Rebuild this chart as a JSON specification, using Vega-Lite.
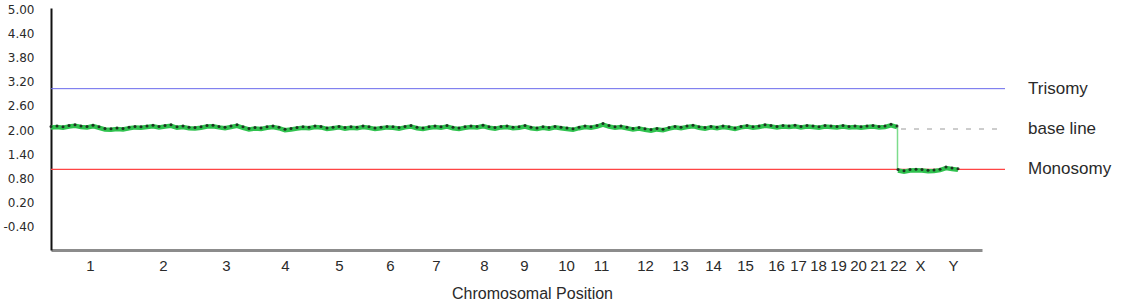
{
  "$schema": "https://vega.github.io/schema/vega-lite/v6.json",
  "width": 931,
  "height": 242,
  "autosize": {"type": "none"},
  "padding": {"left": 51, "top": 8, "right": 141, "bottom": 53},
  "background": "white",
  "config": {
    "view": {"stroke": null},
    "axis": {"grid": false, "ticks": false}
  },
  "datasets": {
    "ratios": [
      {"pos":0,"ratio":2.04,"seg":"A"},{"pos":6,"ratio":2.05,"seg":"A"},{"pos":12,"ratio":2.03,"seg":"A"},{"pos":18,"ratio":2.06,"seg":"A"},{"pos":24,"ratio":2.08,"seg":"A"},{"pos":30,"ratio":2.05,"seg":"A"},{"pos":36,"ratio":2.04,"seg":"A"},{"pos":42,"ratio":2.07,"seg":"A"},{"pos":48,"ratio":2.03,"seg":"A"},{"pos":54,"ratio":1.99,"seg":"A"},{"pos":60,"ratio":1.98,"seg":"A"},{"pos":66,"ratio":2.0,"seg":"A"},{"pos":72,"ratio":1.99,"seg":"A"},{"pos":78,"ratio":2.02,"seg":"A"},{"pos":84,"ratio":2.04,"seg":"A"},{"pos":90,"ratio":2.03,"seg":"A"},{"pos":96,"ratio":2.05,"seg":"A"},{"pos":102,"ratio":2.07,"seg":"A"},{"pos":108,"ratio":2.04,"seg":"A"},{"pos":114,"ratio":2.06,"seg":"A"},{"pos":120,"ratio":2.08,"seg":"A"},{"pos":126,"ratio":2.03,"seg":"A"},{"pos":132,"ratio":2.05,"seg":"A"},{"pos":138,"ratio":2.02,"seg":"A"},{"pos":144,"ratio":2.01,"seg":"A"},{"pos":150,"ratio":2.03,"seg":"A"},{"pos":156,"ratio":2.06,"seg":"A"},{"pos":162,"ratio":2.07,"seg":"A"},{"pos":168,"ratio":2.04,"seg":"A"},{"pos":174,"ratio":2.02,"seg":"A"},{"pos":180,"ratio":2.05,"seg":"A"},{"pos":186,"ratio":2.08,"seg":"A"},{"pos":192,"ratio":2.03,"seg":"A"},{"pos":198,"ratio":1.99,"seg":"A"},{"pos":204,"ratio":2.01,"seg":"A"},{"pos":210,"ratio":2.0,"seg":"A"},{"pos":216,"ratio":2.03,"seg":"A"},{"pos":222,"ratio":2.05,"seg":"A"},{"pos":228,"ratio":2.02,"seg":"A"},{"pos":234,"ratio":1.97,"seg":"A"},{"pos":240,"ratio":1.99,"seg":"A"},{"pos":246,"ratio":2.01,"seg":"A"},{"pos":252,"ratio":2.03,"seg":"A"},{"pos":258,"ratio":2.02,"seg":"A"},{"pos":264,"ratio":2.05,"seg":"A"},{"pos":270,"ratio":2.04,"seg":"A"},{"pos":276,"ratio":2.0,"seg":"A"},{"pos":282,"ratio":2.02,"seg":"A"},{"pos":288,"ratio":2.04,"seg":"A"},{"pos":294,"ratio":2.01,"seg":"A"},{"pos":300,"ratio":2.03,"seg":"A"},{"pos":306,"ratio":2.02,"seg":"A"},{"pos":312,"ratio":2.05,"seg":"A"},{"pos":318,"ratio":2.03,"seg":"A"},{"pos":324,"ratio":2.0,"seg":"A"},{"pos":330,"ratio":2.02,"seg":"A"},{"pos":336,"ratio":2.04,"seg":"A"},{"pos":342,"ratio":2.03,"seg":"A"},{"pos":348,"ratio":2.01,"seg":"A"},{"pos":354,"ratio":2.04,"seg":"A"},{"pos":360,"ratio":2.06,"seg":"A"},{"pos":366,"ratio":2.02,"seg":"A"},{"pos":372,"ratio":2.0,"seg":"A"},{"pos":378,"ratio":2.03,"seg":"A"},{"pos":384,"ratio":2.05,"seg":"A"},{"pos":390,"ratio":2.03,"seg":"A"},{"pos":396,"ratio":2.06,"seg":"A"},{"pos":402,"ratio":2.02,"seg":"A"},{"pos":408,"ratio":2.0,"seg":"A"},{"pos":414,"ratio":2.03,"seg":"A"},{"pos":420,"ratio":2.05,"seg":"A"},{"pos":426,"ratio":2.04,"seg":"A"},{"pos":432,"ratio":2.07,"seg":"A"},{"pos":438,"ratio":2.03,"seg":"A"},{"pos":444,"ratio":2.01,"seg":"A"},{"pos":450,"ratio":2.04,"seg":"A"},{"pos":456,"ratio":2.05,"seg":"A"},{"pos":462,"ratio":2.02,"seg":"A"},{"pos":468,"ratio":2.03,"seg":"A"},{"pos":474,"ratio":2.06,"seg":"A"},{"pos":480,"ratio":2.02,"seg":"A"},{"pos":486,"ratio":2.0,"seg":"A"},{"pos":492,"ratio":2.03,"seg":"A"},{"pos":498,"ratio":2.01,"seg":"A"},{"pos":504,"ratio":2.04,"seg":"A"},{"pos":510,"ratio":2.02,"seg":"A"},{"pos":516,"ratio":2.0,"seg":"A"},{"pos":522,"ratio":1.98,"seg":"A"},{"pos":528,"ratio":2.02,"seg":"A"},{"pos":534,"ratio":2.05,"seg":"A"},{"pos":540,"ratio":2.03,"seg":"A"},{"pos":546,"ratio":2.06,"seg":"A"},{"pos":552,"ratio":2.11,"seg":"A"},{"pos":558,"ratio":2.06,"seg":"A"},{"pos":564,"ratio":2.03,"seg":"A"},{"pos":570,"ratio":2.05,"seg":"A"},{"pos":576,"ratio":2.02,"seg":"A"},{"pos":582,"ratio":1.99,"seg":"A"},{"pos":588,"ratio":2.01,"seg":"A"},{"pos":594,"ratio":1.98,"seg":"A"},{"pos":600,"ratio":1.96,"seg":"A"},{"pos":606,"ratio":1.99,"seg":"A"},{"pos":612,"ratio":1.97,"seg":"A"},{"pos":618,"ratio":2.01,"seg":"A"},{"pos":624,"ratio":2.04,"seg":"A"},{"pos":630,"ratio":2.02,"seg":"A"},{"pos":636,"ratio":2.05,"seg":"A"},{"pos":642,"ratio":2.07,"seg":"A"},{"pos":648,"ratio":2.03,"seg":"A"},{"pos":654,"ratio":2.01,"seg":"A"},{"pos":660,"ratio":2.04,"seg":"A"},{"pos":666,"ratio":2.02,"seg":"A"},{"pos":672,"ratio":2.05,"seg":"A"},{"pos":678,"ratio":2.03,"seg":"A"},{"pos":684,"ratio":2.0,"seg":"A"},{"pos":690,"ratio":2.04,"seg":"A"},{"pos":696,"ratio":2.06,"seg":"A"},{"pos":702,"ratio":2.03,"seg":"A"},{"pos":708,"ratio":2.05,"seg":"A"},{"pos":714,"ratio":2.08,"seg":"A"},{"pos":720,"ratio":2.06,"seg":"A"},{"pos":726,"ratio":2.04,"seg":"A"},{"pos":732,"ratio":2.06,"seg":"A"},{"pos":738,"ratio":2.05,"seg":"A"},{"pos":744,"ratio":2.07,"seg":"A"},{"pos":750,"ratio":2.04,"seg":"A"},{"pos":756,"ratio":2.06,"seg":"A"},{"pos":762,"ratio":2.05,"seg":"A"},{"pos":768,"ratio":2.03,"seg":"A"},{"pos":774,"ratio":2.06,"seg":"A"},{"pos":780,"ratio":2.05,"seg":"A"},{"pos":786,"ratio":2.04,"seg":"A"},{"pos":792,"ratio":2.06,"seg":"A"},{"pos":798,"ratio":2.04,"seg":"A"},{"pos":804,"ratio":2.05,"seg":"A"},{"pos":810,"ratio":2.03,"seg":"A"},{"pos":816,"ratio":2.05,"seg":"A"},{"pos":822,"ratio":2.06,"seg":"A"},{"pos":828,"ratio":2.04,"seg":"A"},{"pos":834,"ratio":2.05,"seg":"A"},{"pos":840,"ratio":2.09,"seg":"A"},{"pos":846,"ratio":2.05,"seg":"A"},
      {"pos":847,"ratio":0.97,"seg":"X"},{"pos":853,"ratio":0.94,"seg":"X"},{"pos":859,"ratio":0.97,"seg":"X"},{"pos":865,"ratio":0.98,"seg":"X"},{"pos":871,"ratio":0.97,"seg":"X"},{"pos":877,"ratio":0.95,"seg":"X"},{"pos":883,"ratio":0.96,"seg":"X"},{"pos":889,"ratio":0.98,"seg":"X"},{"pos":895,"ratio":1.03,"seg":"X"},{"pos":901,"ratio":1.01,"seg":"X"},{"pos":907,"ratio":0.99,"seg":"X"}
    ],
    "drop": [{"pos": 846.5, "top": 2.05, "bottom": 0.97}],
    "refs": [
      {"label": "Trisomy", "value": 3.0, "start": 0, "end": 954, "textpos": 977, "kind": "tri"},
      {"label": "base line", "value": 2.0, "start": 850, "end": 954, "textpos": 977, "kind": "base"},
      {"label": "Monosomy", "value": 1.0, "start": 0, "end": 954, "textpos": 977, "kind": "mono"}
    ]
  },
  "layer": [
    {
      "data": {"name": "refs"},
      "transform": [{"filter": "datum.kind == 'tri'"}],
      "mark": {"type": "rule", "color": "#6a6aec", "strokeWidth": 1},
      "encoding": {
        "x": {"field": "start", "type": "quantitative", "scale": {"domain": [0, 931], "nice": false, "zero": false},
          "axis": {
            "title": "Chromosomal Position",
            "values": [39,112,175,234,288,339,385,433,473,515,550,594,629,662,694,725,747,767,787,807,827,847,869,902],
            "tickCount": 60,
            "labelExpr": "['1','2','3','4','5','6','7','8','9','10','11','12','13','14','15','16','17','18','19','20','21','22','X','Y'][indexof([39,112,175,234,288,339,385,433,473,515,550,594,629,662,694,725,747,767,787,807,827,847,869,902], datum.value)]",
            "labelFont": "Liberation Sans", "labelFontSize": 15, "labelColor": "#2a2a2a",
            "labelPadding": 8, "labelFlush": false, "labelOverlap": false,
            "domainColor": "#8c8c8c", "domainWidth": 3,
            "titleFont": "Liberation Sans", "titleFontSize": 16, "titleFontWeight": "normal", "titleColor": "#2a2a2a",
            "titlePadding": 12, "titleX": 481
          }
        },
        "x2": {"field": "end"},
        "y": {"field": "value", "type": "quantitative", "scale": {"domain": [-1, 5], "nice": false, "zero": false},
          "axis": {
            "title": null,
            "values": [-0.4, 0.2, 0.8, 1.4, 2.0, 2.6, 3.2, 3.8, 4.4, 5.0],
            "tickCount": 30,
            "labelExpr": "(datum.value < 0 ? '-' : '') + format(abs(datum.value), '.2f')",
            "labelOverlap": false, "labelFlush": false,
            "labelFont": "DejaVu Sans", "labelFontSize": 12, "labelColor": "#2a2a2a",
            "labelPadding": 17, "labelOffset": 1,
            "domainColor": "#111111", "domainWidth": 2
          }
        }
      }
    },
    {
      "data": {"name": "refs"},
      "transform": [{"filter": "datum.kind == 'mono'"}],
      "mark": {"type": "rule", "color": "#ff4545", "strokeWidth": 1.2},
      "encoding": {
        "x": {"field": "start", "type": "quantitative"},
        "x2": {"field": "end"},
        "y": {"field": "value", "type": "quantitative"}
      }
    },
    {
      "data": {"name": "refs"},
      "transform": [{"filter": "datum.kind == 'base'"}],
      "mark": {"type": "rule", "color": "#9a9a9a", "strokeWidth": 1, "strokeDash": [5, 8]},
      "encoding": {
        "x": {"field": "start", "type": "quantitative"},
        "x2": {"field": "end"},
        "y": {"field": "value", "type": "quantitative"}
      }
    },
    {
      "data": {"name": "refs"},
      "mark": {"type": "text", "align": "left", "baseline": "middle", "font": "Liberation Sans", "fontSize": 17, "color": "#2a2a2a"},
      "encoding": {
        "x": {"field": "textpos", "type": "quantitative"},
        "y": {"field": "value", "type": "quantitative"},
        "text": {"field": "label"}
      }
    },
    {
      "data": {"name": "drop"},
      "mark": {"type": "rule", "color": "#7ddc8c", "strokeWidth": 1.5},
      "encoding": {
        "x": {"field": "pos", "type": "quantitative"},
        "y": {"field": "top", "type": "quantitative"},
        "y2": {"field": "bottom"}
      }
    },
    {
      "data": {"name": "ratios"},
      "mark": {"type": "line", "color": "#2fc24e", "strokeWidth": 4.5, "interpolate": "linear"},
      "encoding": {
        "x": {"field": "pos", "type": "quantitative"},
        "y": {"field": "ratio", "type": "quantitative"},
        "detail": {"field": "seg"}
      }
    },
    {
      "data": {"name": "ratios"},
      "mark": {"type": "point", "filled": true, "color": "#1a1a1a", "size": 9, "opacity": 0.85, "yOffset": -1},
      "encoding": {
        "x": {"field": "pos", "type": "quantitative"},
        "y": {"field": "ratio", "type": "quantitative"}
      }
    }
  ]
}
